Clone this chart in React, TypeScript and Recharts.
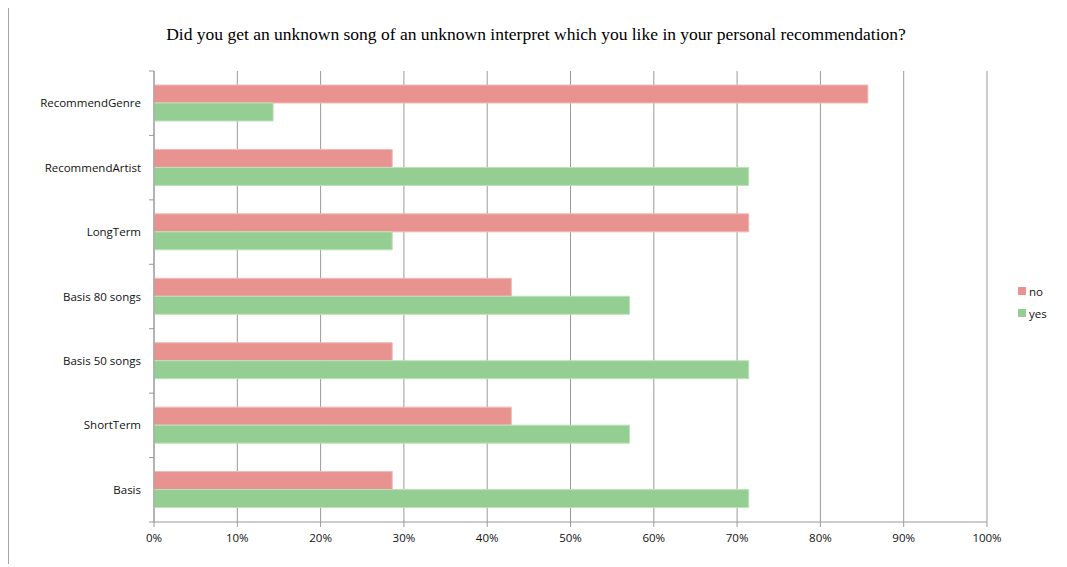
import React from "react";
import {
  BarChart,
  Bar,
  XAxis,
  YAxis,
  CartesianGrid,
  Legend,
} from "recharts";

const categories = [
  "RecommendGenre",
  "RecommendArtist",
  "LongTerm",
  "Basis 80 songs",
  "Basis 50 songs",
  "ShortTerm",
  "Basis",
];
const noValues = [0.857, 0.286, 0.714, 0.429, 0.286, 0.429, 0.286];
const yesValues = [0.143, 0.714, 0.286, 0.571, 0.714, 0.571, 0.714];
const xTicks = [0, 0.1, 0.2, 0.3, 0.4, 0.5, 0.6, 0.7, 0.8, 0.9, 1];

const title =
  "Did you get an unknown song of an unknown interpret which you like in your personal recommendation?";

const NO_COLOR = "#E99391";
const YES_COLOR = "#95CE92";
const GRID = "#9a9a9a";
const LABEL_FONT = "'Open Sans', 'Noto Sans', sans-serif";

const chartData = categories.map((name, i) => ({
  name,
  no: noValues[i],
  yes: yesValues[i],
}));

const CHART_W = 1058;
const CHART_H = 556;
const MARGIN = { top: 63, right: 20, bottom: 12, left: 0 };
const PLOT_H = CHART_H - MARGIN.top - MARGIN.bottom - 30;
const HALF_BAND = PLOT_H / categories.length / 2;

const CategoryTick = (props: any) => {
  const { x, y, payload, index } = props;
  const last = index === categories.length - 1;
  return (
    <g>
      <text
        x={x - 13}
        y={y}
        dy={4}
        textAnchor="end"
        fontFamily={LABEL_FONT}
        fontSize={11.5}
        fill="#111"
      >
        {payload.value}
      </text>
      <line x1={x - 5} x2={x} y1={y - HALF_BAND} y2={y - HALF_BAND} stroke={GRID} />
      {last && (
        <line x1={x - 5} x2={x} y1={y + HALF_BAND} y2={y + HALF_BAND} stroke={GRID} />
      )}
    </g>
  );
};

const LegendContent = (props: any) => {
  const { payload } = props;
  return (
    <div style={{ width: 60, paddingLeft: 31, paddingTop: 32, boxSizing: "border-box" }}>
      {(payload || []).map((p: any) => (
        <div
          key={p.value}
          style={{
            display: "flex",
            alignItems: "center",
            height: 22,
            fontFamily: LABEL_FONT,
            fontSize: 11.5,
            color: "#111",
          }}
        >
          <span
            style={{
              display: "inline-block",
              width: 8,
              height: 8,
              background: p.color,
              marginRight: 3,
            }}
          />
          {p.value}
        </div>
      ))}
    </div>
  );
};

export default function App() {
  return (
    <div
      style={{
        position: "relative",
        marginTop: -1,
        width: CHART_W,
        height: CHART_H,
        borderTop: "1px solid #a6a6a6",
        borderLeft: "1px solid #a6a6a6",
        background: "#fff",
      }}
    >
      <div
        style={{
          position: "absolute",
          top: 16,
          left: 0,
          width: 1054,
          textAlign: "center",
          fontFamily: "'Liberation Serif', 'Times New Roman', serif",
          fontSize: 17.5,
          color: "#000",
          zIndex: 1,
        }}
      >
        {title}
      </div>
      <BarChart
        width={CHART_W}
        height={CHART_H}
        data={chartData}
        layout="vertical"
        margin={MARGIN}
        barGap={0}
        barSize={18}
      >
        <CartesianGrid horizontal={false} vertical stroke={GRID} strokeWidth={1} />
        <XAxis
          type="number"
          domain={[0, 1]}
          ticks={xTicks}
          interval={0}
          tickFormatter={(v: number) => `${Math.round(v * 100)}%`}
          stroke={GRID}
          tickSize={5}
          tickMargin={7}
          height={30}
          tick={{ fill: "#111", fontFamily: LABEL_FONT, fontSize: 11.5 }}
        />
        <YAxis
          type="category"
          dataKey="name"
          width={145}
          stroke={GRID}
          tickLine={false}
          tickSize={0}
          tickMargin={0}
          interval={0}
          tick={<CategoryTick />}
        />
        <Legend
          layout="vertical"
          align="right"
          verticalAlign="middle"
          content={<LegendContent />}
        />
        <Bar dataKey="no" name="no" fill={NO_COLOR} stroke="#F2B9B7" strokeWidth={1} isAnimationActive={false} />
        <Bar dataKey="yes" name="yes" fill={YES_COLOR} stroke="#BDE2BB" strokeWidth={1} isAnimationActive={false} />
      </BarChart>
    </div>
  );
}
